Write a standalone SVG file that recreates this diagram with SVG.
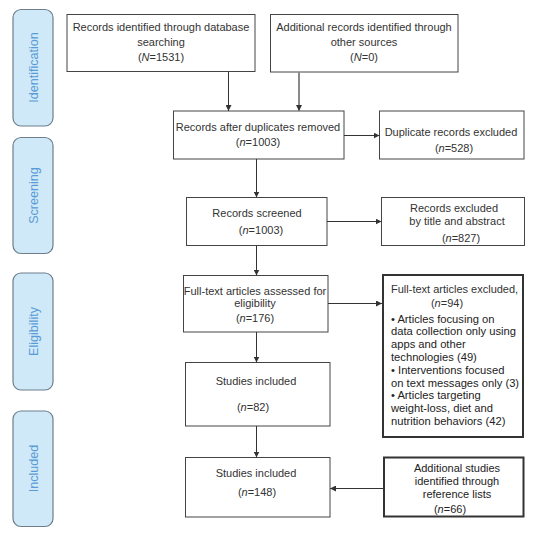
<svg xmlns="http://www.w3.org/2000/svg" width="542" height="535" viewBox="0 0 542 535">
<style>
  text { font-family: "Liberation Sans", Arial, sans-serif; font-size: 11px; fill: #333; }
  .c { text-anchor: middle; }
  .box { fill: #fff; stroke: #444; stroke-width: 1; }
  .thick { fill: #fff; stroke: #333; stroke-width: 2; }
  .pill { fill: #cfe9f9; stroke: #6e7e8c; stroke-width: 1.2; }
  .stage { font-size: 12.6px; fill: #5b9bd5; text-anchor: middle; }
  .dark { fill: #222; }
  .b { font-size: 11.2px; fill: #222; }
  .ln { stroke: #333; stroke-width: 1; fill: none; marker-end: url(#ah); }
  .lng { stroke: #8a8a8a; stroke-width: 2; fill: none; marker-end: url(#ah); }
  .it { font-style: italic; }
</style>
<defs>
  <marker id="ah" markerWidth="7" markerHeight="6" refX="6" refY="3" orient="auto" markerUnits="userSpaceOnUse">
    <path d="M0,0 L6,3 L0,6 z" fill="#333"/>
  </marker>
</defs>
<rect width="542" height="535" fill="#fff"/>

<g id="stage-identification">
  <rect class="pill" x="13" y="9.5" width="40" height="116.5" rx="8"/>
  <text class="stage" transform="translate(37.5,67.5) rotate(-90)">Identification</text>
</g>
<g id="stage-screening">
  <rect class="pill" x="13" y="137.5" width="40" height="116" rx="8"/>
  <text class="stage" transform="translate(37.5,195.5) rotate(-90)">Screening</text>
</g>
<g id="stage-eligibility">
  <rect class="pill" x="13" y="273" width="40" height="117" rx="8"/>
  <text class="stage" transform="translate(37.5,331.5) rotate(-90)">Eligibility</text>
</g>
<g id="stage-included">
  <rect class="pill" x="13" y="411" width="40" height="115.5" rx="8"/>
  <text class="stage" transform="translate(37.5,468.5) rotate(-90)">Included</text>
</g>

<g id="n-db">
  <rect class="box" x="67" y="14.5" width="188" height="57"/>
  <text class="c" x="161" y="31">Records identified through database</text>
  <text class="c" x="161" y="46">searching</text>
  <text class="c" x="161" y="61">(<tspan class="it">N</tspan>=1531)</text>
</g>
<g id="n-other">
  <rect class="box" x="270.5" y="14.5" width="187.5" height="57.5"/>
  <text class="c" x="364" y="31">Additional records identified through</text>
  <text class="c" x="364" y="46">other sources</text>
  <text class="c" x="364" y="61">(<tspan class="it">N</tspan>=0)</text>
</g>
<g id="n-dedup">
  <rect class="box" x="173.5" y="111" width="170.5" height="48"/>
  <text class="c" x="258" y="131">Records after duplicates removed</text>
  <text class="c" x="258" y="146">(<tspan class="it">n</tspan>=1003)</text>
</g>
<g id="n-dupex">
  <rect class="box" x="379.5" y="111" width="144.5" height="48"/>
  <text class="c" x="451" y="136">Duplicate records excluded</text>
  <text class="c" x="454" y="152">(<tspan class="it">n</tspan>=528)</text>
</g>
<g id="n-screened">
  <rect class="box" x="186.5" y="197.5" width="140.5" height="48"/>
  <text class="c" x="257" y="217">Records screened</text>
  <text class="c" x="261" y="234">(<tspan class="it">n</tspan>=1003)</text>
</g>
<g id="n-titleex">
  <rect class="box" x="381.5" y="197.5" width="143" height="48"/>
  <text class="c" x="454" y="212">Records excluded</text>
  <text class="c" x="457" y="225">by title and abstract</text>
  <text class="c" x="461" y="242">(<tspan class="it">n</tspan>=827)</text>
</g>
<g id="n-fulltext">
  <rect class="box" x="183.5" y="275.5" width="144.5" height="56.5"/>
  <text class="c" x="255" y="295">Full-text articles assessed for</text>
  <text class="c" x="255" y="307">eligibility</text>
  <text class="c" x="255" y="322">(<tspan class="it">n</tspan>=176)</text>
</g>
<g id="n-fullex">
  <rect class="thick" x="383" y="275" width="140" height="162"/>
  <text x="391" y="293">Full-text articles excluded,</text>
  <text class="c" x="447" y="307">(<tspan class="it">n</tspan>=94)</text>
  <text class="b" x="391" y="323">• Articles focusing on</text>
  <text class="b" x="391" y="335">data collection only using</text>
  <text class="b" x="391" y="348">apps and other</text>
  <text class="b" x="391" y="361">technologies (49)</text>
  <text class="b" x="391" y="374">• Interventions focused</text>
  <text class="b" x="391" y="387">on text messages only (3)</text>
  <text class="b" x="391" y="399">• Articles targeting</text>
  <text class="b" x="391" y="412">weight-loss, diet and</text>
  <text class="b" x="391" y="425">nutrition behaviors (42)</text>
</g>
<g id="n-inc1">
  <rect class="box" x="185.5" y="362.5" width="144.5" height="63.5"/>
  <text class="c" x="256" y="385">Studies included</text>
  <text class="c" x="253" y="411">(<tspan class="it">n</tspan>=82)</text>
</g>
<g id="n-inc2">
  <rect class="box" x="185.5" y="457.5" width="144.5" height="59.5"/>
  <text class="c" x="256" y="477">Studies included</text>
  <text class="c" x="257" y="496">(<tspan class="it">n</tspan>=148)</text>
</g>
<g id="n-refs">
  <rect class="thick" x="384" y="457.5" width="139.5" height="59"/>
  <text class="c dark" x="457" y="472">Additional studies</text>
  <text class="c dark" x="457" y="485">identified through</text>
  <text class="c dark" x="457" y="498">reference lists</text>
  <text class="c dark" x="450" y="513">(<tspan class="it">n</tspan>=66)</text>
</g>

<g id="connectors">
  <line class="ln" x1="228.5" y1="71.5" x2="228.5" y2="111"/>
  <line class="lng" x1="299" y1="72" x2="299" y2="111"/>
  <line class="ln" x1="344" y1="135.5" x2="379.5" y2="135.5"/>
  <line class="ln" x1="256.5" y1="159" x2="256.5" y2="197.5"/>
  <line class="ln" x1="327" y1="221.5" x2="381.5" y2="221.5"/>
  <line class="ln" x1="256.5" y1="245.5" x2="256.5" y2="275.5"/>
  <line class="ln" x1="328" y1="303.5" x2="382" y2="303.5"/>
  <line class="ln" x1="256.5" y1="332" x2="256.5" y2="362.5"/>
  <line class="ln" x1="256.5" y1="426" x2="256.5" y2="457.5"/>
  <line class="ln" x1="383" y1="488.5" x2="330" y2="488.5"/>
</g>
</svg>
